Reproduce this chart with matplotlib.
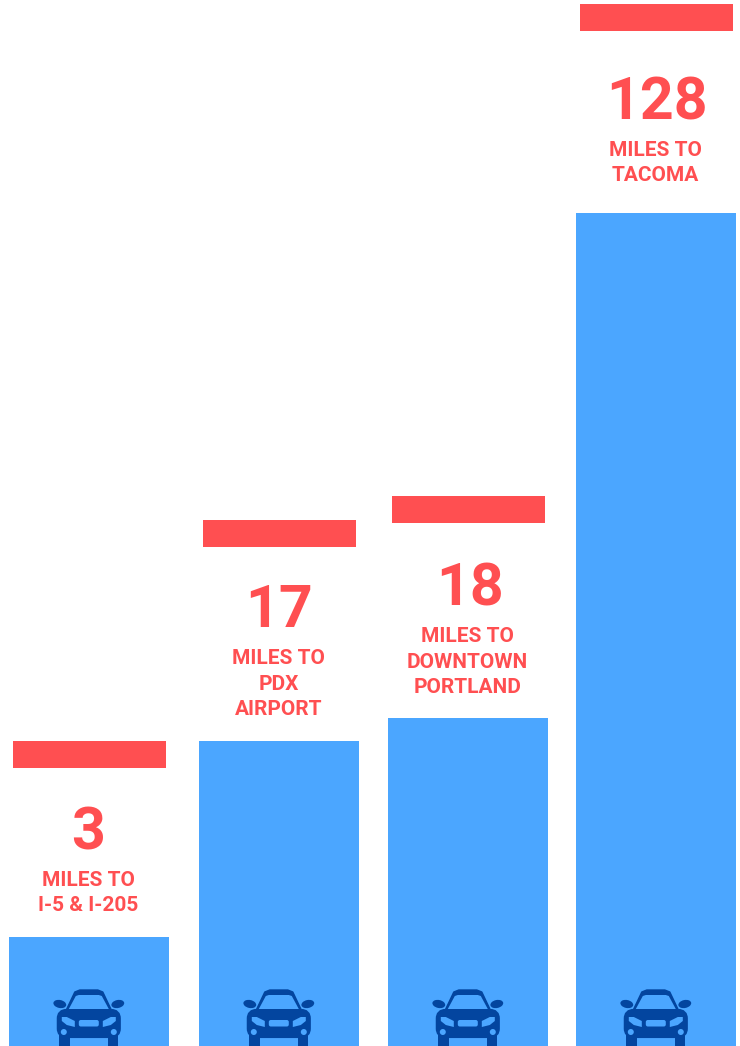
#!/usr/bin/env python

# Distance bars with car icons, axes in pixel units of the picture

import matplotlib.pyplot as plt
from matplotlib.patches import Circle, Ellipse, FancyBboxPatch, Polygon, Rectangle

miles = ['3', '17', '18', '128']
places = ['MILES TO\nI-5 & I-205', 'MILES TO\nPDX\nAIRPORT',
          'MILES TO\nDOWNTOWN\nPORTLAND', 'MILES TO\nTACOMA']
bar_heights = [109, 305, 328, 833]

BLUE = '#4ba6ff'
RED = '#ff4f51'
NAVY = '#03459f'

plt.rcParams['font.family'] = ['Roboto', 'DejaVu Sans']

fig = plt.figure(figsize=(7.40, 10.46), dpi=100)
ax = fig.add_axes([0, 0, 1, 1])
ax.set_xlim(0, 740)
ax.set_ylim(0, 1046)
ax.axis('off')

lefts = [9, 199, 388, 576]
bar_w = 160

# Offsets above the bar top: last label baseline, number baseline, bottom of red cap
label_up = [26, 26, 25, 32]
number_up = [87, 114, 113, 93]
cap_up = [169, 194, 195, 182]
number_dx = [-1, 0, 2, 1]


def draw_car(cx):
    # y is height above the bottom edge, clipped by the edge itself
    ax.add_patch(Rectangle((cx - 29.5, 0), 11, 12, color=NAVY, lw=0))
    ax.add_patch(Rectangle((cx + 19, 0), 10.5, 12, color=NAVY, lw=0))
    ax.add_patch(FancyBboxPatch((cx - 26.5, 13.5), 53, 18, boxstyle='round,pad=0,rounding_size=4',
                                fc=NAVY, ec=NAVY, lw=8))
    ax.add_patch(Polygon([(cx - 23, 35), (cx - 14, 54), (cx - 9, 56), (cx + 9, 56),
                          (cx + 14, 54), (cx + 23, 35)], fc=NAVY, ec=NAVY, lw=1, joinstyle='round'))
    ax.add_patch(Polygon([(cx - 20, 37), (cx - 13, 50), (cx - 10, 51), (cx + 10, 51),
                          (cx + 13, 50), (cx + 20, 37)], fc=BLUE, lw=0))
    for side in (-1, 1):
        ax.add_patch(Ellipse((cx + side * 29, 42), 13, 8, angle=side * 12, color=NAVY, lw=0))
        ax.add_patch(Circle((cx + side * 25, 14), 3, color=BLUE, lw=0))
        ax.add_patch(Polygon([(cx + side * 27, 29), (cx + side * 22, 29), (cx + side * 14, 25),
                              (cx + side * 14, 19), (cx + side * 22, 21), (cx + side * 27, 25)],
                             fc=BLUE, lw=0))
    ax.add_patch(FancyBboxPatch((cx - 10, 19.5), 20, 6.5, boxstyle='round,pad=0,rounding_size=2',
                                fc=BLUE, lw=0))


for k in range(4):
    left = lefts[k]
    h = bar_heights[k]
    center = left + bar_w / 2
    ax.bar(left, h, width=bar_w, align='edge', color=BLUE, lw=0)

    # Label block sits above the bar, number and red cap above that
    ax.text(center - 0.5, h + label_up[k], places[k], color=RED, fontsize=15, fontweight='bold',
            ha='center', va='baseline', multialignment='center', linespacing=1.42)
    ax.text(center + number_dx[k], h + number_up[k], miles[k], color=RED, fontsize=42.5,
            fontweight='bold', ha='center', va='baseline')
    ax.add_patch(Rectangle((left + 3.5, h + cap_up[k]), 153.4, 27, color=RED, lw=0))

    draw_car(center - 0.2)

fig.savefig('out.png', dpi=100, facecolor='white')
